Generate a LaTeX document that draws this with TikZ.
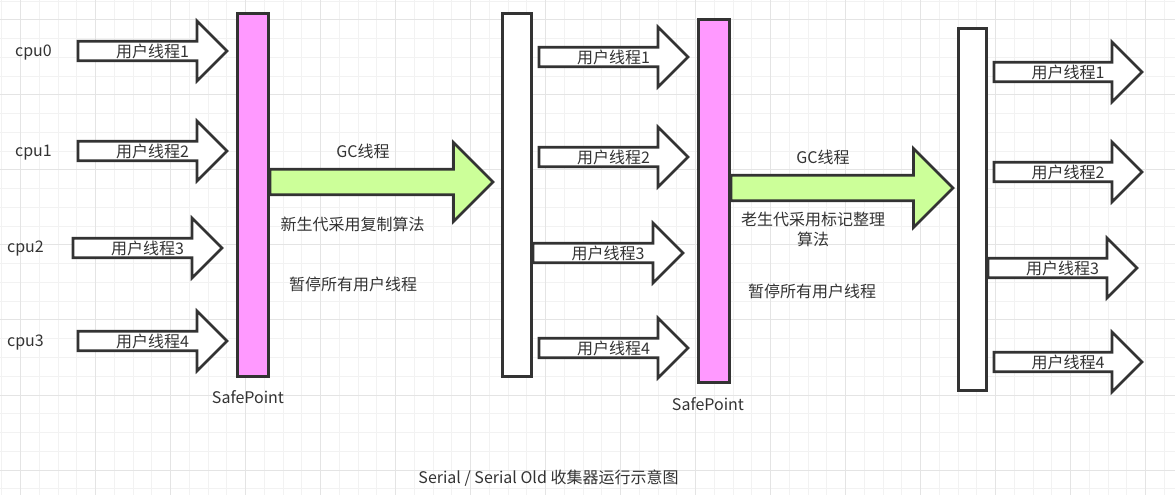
\documentclass[tikz,border=0pt]{standalone}
\usepackage{fontspec}
\setmainfont{Noto Sans CJK SC}
\usetikzlibrary{calc}

\definecolor{linegray}{HTML}{333333}
\definecolor{safepink}{HTML}{FF99FF}
\definecolor{gcgreen}{HTML}{CCFF99}
\definecolor{gridminor}{HTML}{F2F2F2}
\definecolor{gridmajor}{HTML}{E4E4E4}

\tikzset{
  barbox/.style={draw=linegray, line width=2pt, inner sep=0pt, minimum height=272.5pt},
  safebar/.style={barbox, fill=safepink, minimum width=23.5pt},
  runbar/.style={barbox, fill=white},
  userarrow/.style={draw=linegray, line width=2pt, fill=white, line join=miter},
  gcarrow/.style={userarrow, fill=gcgreen},
  lbl/.style={text=linegray, font=\fontsize{12}{15}\selectfont, inner sep=0pt, align=center},
}

% tail, tip, half body, half head, style
\newcommand{\blockarrow}[5]{%
  \draw[#5] ($(#1)+(0,-#3)$) -- ($(#2)+(-#4,-#3)$) -- ($(#2)+(-#4,-#4)$) -- (#2)
    -- ($(#2)+(-#4,#4)$) -- ($(#2)+(-#4,#3)$) -- ($(#1)+(0,#3)$) -- cycle;}

\begin{document}
\begin{tikzpicture}[x=0.75pt,y=-0.75pt]
		\useasboundingbox (0,0) rectangle (1175,495);
		% grid
		\foreach \i in {0,...,62} \draw[gridminor, line width=0.75pt] ({1.95+18.75*\i},0) -- ++(0,495);
		\foreach \i in {0,...,26} \draw[gridminor, line width=0.75pt] (0,{1.25+18.75*\i}) -- ++(1175,0);
		\foreach \i in {0,...,15} \draw[gridmajor, line width=0.75pt] ({20.7+75*\i},0) -- ++(0,495);
		\foreach \i in {0,...,6} \draw[gridmajor, line width=0.75pt] (0,{20+75*\i}) -- ++(1175,0);

		\node[lbl] (cpu0) at (33.5,53) {cpu0};
		\node[lbl] (cpu1) at (33.5,153) {cpu1};
		\node[lbl] (cpu2) at (25.5,249) {cpu2};
		\node[lbl] (cpu3) at (25.5,343) {cpu3};

		% user threads before the first safepoint
		\coordinate (a0) at (78,51);   \coordinate (b0) at (227,51);
		\coordinate (a1) at (78,151);  \coordinate (b1) at (227,151);
		\coordinate (a2) at (73,248);  \coordinate (b2) at (222,248);
		\coordinate (a3) at (78,341);  \coordinate (b3) at (227,341);
		\blockarrow{a0}{b0}{9.7}{30}{userarrow}
		\blockarrow{a1}{b1}{9.7}{30}{userarrow}
		\blockarrow{a2}{b2}{9.7}{30}{userarrow}
		\blockarrow{a3}{b3}{9.7}{30}{userarrow}
		\node[lbl] (u0) at ($(a0)!0.5!(b0)$) {用户线程1};
		\node[lbl] (u1) at ($(a1)!0.5!(b1)$) {用户线程2};
		\node[lbl] (u2) at ($(a2)!0.5!(b2)$) {用户线程3};
		\node[lbl] (u3) at ($(a3)!0.5!(b3)$) {用户线程4};

		% user threads after young gc
		\coordinate (c0) at (539,57);  \coordinate (d0) at (688,57);
		\coordinate (c1) at (539,157); \coordinate (d1) at (688,157);
		\coordinate (c2) at (533,253); \coordinate (d2) at (683,253);
		\coordinate (c3) at (539,348); \coordinate (d3) at (688,348);
		\blockarrow{c0}{d0}{9.7}{30}{userarrow}
		\blockarrow{c1}{d1}{9.7}{30}{userarrow}
		\blockarrow{c2}{d2}{9.7}{30}{userarrow}
		\blockarrow{c3}{d3}{9.7}{30}{userarrow}
		\node[lbl] (v0) at ($(c0)!0.5!(d0)$) {用户线程1};
		\node[lbl] (v1) at ($(c1)!0.5!(d1)$) {用户线程2};
		\node[lbl] (v2) at ($(c2)!0.5!(d2)$) {用户线程3};
		\node[lbl] (v3) at ($(c3)!0.5!(d3)$) {用户线程4};

		% user threads after old gc
		\coordinate (e0) at (994,72);  \coordinate (f0) at (1142,72);
		\coordinate (e1) at (994,172); \coordinate (f1) at (1142,172);
		\coordinate (e2) at (988,268); \coordinate (f2) at (1137,268);
		\coordinate (e3) at (994,362); \coordinate (f3) at (1142,362);
		\blockarrow{e0}{f0}{9.7}{30}{userarrow}
		\blockarrow{e1}{f1}{9.7}{30}{userarrow}
		\blockarrow{e2}{f2}{9.7}{30}{userarrow}
		\blockarrow{e3}{f3}{9.7}{30}{userarrow}
		\node[lbl] (w0) at ($(e0)!0.5!(f0)$) {用户线程1};
		\node[lbl] (w1) at ($(e1)!0.5!(f1)$) {用户线程2};
		\node[lbl] (w2) at ($(e2)!0.5!(f2)$) {用户线程3};
		\node[lbl] (w3) at ($(e3)!0.5!(f3)$) {用户线程4};

		% gc threads
		\coordinate (g0) at (270,182); \coordinate (h0) at (493,182);
		\coordinate (g1) at (731,188); \coordinate (h1) at (953,188);
		\blockarrow{g0}{h0}{12.8}{39.5}{gcarrow}
		\blockarrow{g1}{h1}{12.8}{39.5}{gcarrow}

		\node[safebar] (sp1) at (253,195) {};
		\node[runbar, minimum width=22pt] (r1) at (517,195) {};
		\node[safebar] (sp2) at (714,201) {};
		\node[runbar, minimum width=21.25pt, minimum height=271.75pt] (r2) at (972.5,209.5) {};

		\node[lbl] (sp1t) at (248,397) {SafePoint};
		\node[lbl] (sp2t) at (708,404) {SafePoint};

		\node[lbl] (gc1) at (363,151) {GC线程};
		\node[lbl] (young) at (352.5,224) {新生代采用复制算法};
		\node[lbl] (stop1) at (353,284) {暂停所有用户线程};
		\node[lbl] (gc2) at (823,157) {GC线程};
		\node[lbl] (old) at (813,229) {老生代采用标记整理\\算法};
		\node[lbl] (stop2) at (812,291) {暂停所有用户线程};

		\node[lbl] (title) at (548.5,478) {Serial / Serial Old 收集器运行示意图};
\end{tikzpicture}
\end{document}
